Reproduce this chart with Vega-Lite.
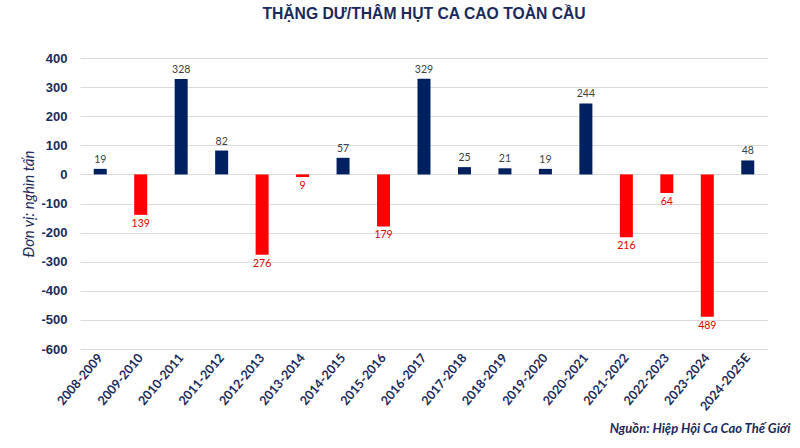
{
  "$schema": "https://vega.github.io/schema/vega-lite/v6.json",
  "description": "Global cocoa surplus/deficit by season (thousand tonnes).",
  "autosize": {"type": "none"},
  "width": 688,
  "height": 291,
  "padding": {"left": 80, "top": 58, "right": 32, "bottom": 99},
  "background": "white",
  "title": {
    "text": "THẶNG DƯ/THÂM HỤT CA CAO TOÀN CẦU",
    "font": "Liberation Sans",
    "fontSize": 15.7,
    "fontWeight": "bold",
    "color": "#1B2A5C",
    "anchor": "middle",
    "offset": 29
  },
  "data": {
    "values": [
      {"season": "2008-2009", "value": 19},
      {"season": "2009-2010", "value": -139},
      {"season": "2010-2011", "value": 328},
      {"season": "2011-2012", "value": 82},
      {"season": "2012-2013", "value": -276},
      {"season": "2013-2014", "value": -9},
      {"season": "2014-2015", "value": 57},
      {"season": "2015-2016", "value": -179},
      {"season": "2016-2017", "value": 329},
      {"season": "2017-2018", "value": 25},
      {"season": "2018-2019", "value": 21},
      {"season": "2019-2020", "value": 19},
      {"season": "2020-2021", "value": 244},
      {"season": "2021-2022", "value": -216},
      {"season": "2022-2023", "value": -64},
      {"season": "2023-2024", "value": -489},
      {"season": "2024-2025E", "value": 48}
    ]
  },
  "transform": [
    {"calculate": "abs(datum.value)", "as": "label"}
  ],
  "encoding": {
    "x": {
      "field": "season",
      "type": "nominal",
      "sort": null,
      "scale": {"paddingInner": 0.7, "paddingOuter": 0.35},
      "axis": {
        "title": "Nguồn: Hiệp Hội Ca Cao Thế Giới",
        "titleX": 710,
        "titleAlign": "right",
        "titleFont": "Lato",
        "titleFontSize": 13,
        "titleFontWeight": "bold",
        "titleFontStyle": "italic",
        "titleColor": "#1B2A5C",
        "titlePadding": 10,
        "labelAngle": -50,
        "labelFont": "Lato",
        "labelFontSize": 12.5,
        "labelFontWeight": "bold",
        "labelColor": "#1B2A5C",
        "labelPadding": 6,
        "ticks": false,
        "domain": false,
        "grid": false
      }
    },
    "y": {
      "field": "value",
      "type": "quantitative",
      "scale": {"domain": [-600, 400], "nice": false},
      "axis": {
        "title": "Đơn vị: nghìn tấn",
        "titleFont": "Lato",
        "titleFontSize": 15,
        "titleFontWeight": "normal",
        "titleFontStyle": "italic",
        "titleColor": "#1B2A5C",
        "titlePadding": 4,
        "values": [-600, -500, -400, -300, -200, -100, 0, 100, 200, 300, 400],
        "labelExpr": "replace(datum.label, '−', '-')",
        "labelFont": "Liberation Sans",
        "labelFontSize": 13,
        "labelFontWeight": "bold",
        "labelColor": "#1B2A5C",
        "labelPadding": 13,
        "ticks": false,
        "domain": false,
        "gridColor": "#DCDCDC",
        "gridWidth": 1
      }
    }
  },
  "layer": [
    {
      "mark": {"type": "bar", "size": 13},
      "encoding": {
        "color": {
          "condition": {"test": "datum.value < 0", "value": "#FF0000"},
          "value": "#002060"
        }
      }
    },
    {
      "transform": [{"filter": "datum.value >= 0"}],
      "mark": {"type": "text", "baseline": "bottom", "dy": -4, "font": "Lato", "fontSize": 10.5, "color": "#404040"},
      "encoding": {"text": {"field": "label", "type": "quantitative"}}
    },
    {
      "transform": [{"filter": "datum.value < 0"}],
      "mark": {"type": "text", "baseline": "top", "dy": 4, "font": "Lato", "fontSize": 10.5, "color": "#E00000"},
      "encoding": {"text": {"field": "label", "type": "quantitative"}}
    }
  ],
  "config": {"view": {"stroke": null}}
}
